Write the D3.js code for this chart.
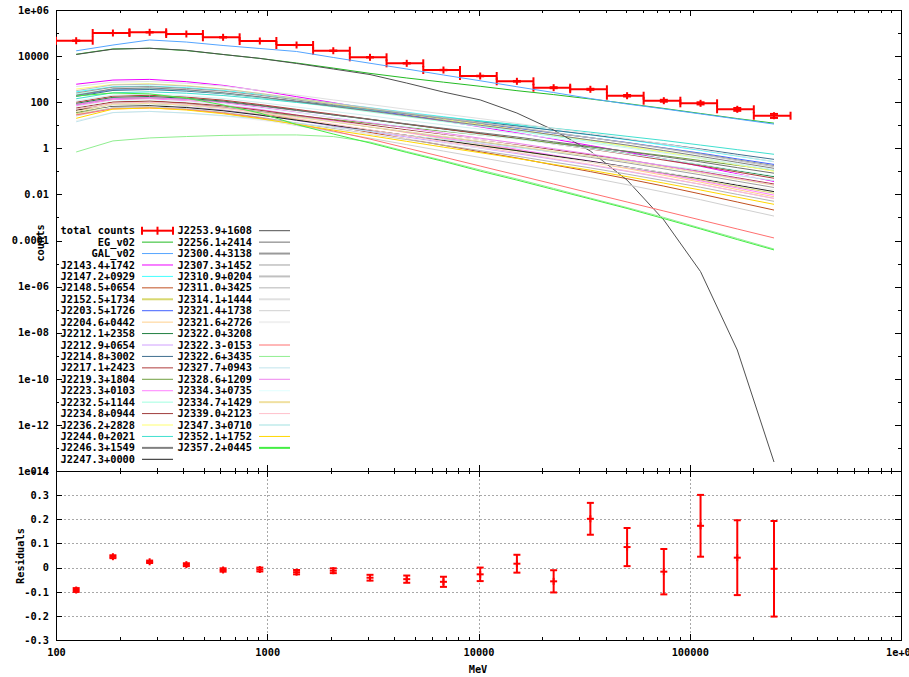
<!DOCTYPE html>
<html><head><meta charset="utf-8">
<script src="https://cdn.jsdelivr.net/npm/d3@7"></script>
<style>
html,body{margin:0;padding:0;background:#fff;}
svg{display:block;}
text{font-family:"DejaVu Sans Mono",monospace;font-weight:bold;font-size:10.3px;fill:#000;}
</style></head><body>
<svg id="chart" width="909" height="677"></svg>
<script>
// ---------------- DATA ----------------
// energy bin edges (MeV)
const binEdgesMeV = [100,149.2,222.7,332.3,495.9,740.1,1104.5,1648.3,2459.7,3670.7,5477.2,8173.6,12197,18202,27162,40534,60490,90270,134710,201030,300000];
// observed total counts per bin and their errors
const totalCounts = [46500,100400,108000,91000,65400,45200,30300,17100,8870,4870,2490,1370,807,426,363,191,116,89.5,49.2,25.9];
const totalCountsErr = [216,317,329,302,256,213,174,131,94,70,50,37,28,21,19,14,11,9.5,7,5.1];
// residuals per bin
const residuals = [-0.093,0.045,0.024,0.012,-0.010,-0.008,-0.019,-0.013,-0.042,-0.048,-0.059,-0.028,0.016,-0.057,0.202,0.085,-0.017,0.173,0.041,-0.005];
const residualErr = [0.008,0.006,0.005,0.006,0.007,0.008,0.009,0.010,0.012,0.015,0.021,0.028,0.037,0.046,0.066,0.079,0.094,0.128,0.155,0.198];

// model counts per bin, as log10(counts)
const log10_EG_v02 = [4.08,4.31,4.34,4.24,4.07,3.90,3.70,3.48,3.25,3.05,2.87,2.69,2.50,2.33,2.14,1.94,1.73,1.51,1.29,1.09];
const log10_GAL_v02 = [4.23,4.48,4.70,4.61,4.46,4.33,4.20,3.94,3.69,3.44,3.18,2.93,2.67,2.42,2.16,1.92,1.71,1.49,1.27,1.05];
const log10_J2143_4p1742 = [2.78,2.96,2.99,2.89,2.73,2.50,2.24,1.98,1.71,1.45,1.19,0.93,0.67,0.40,0.12,-0.16,-0.47,-0.78,-1.11,-1.44];
const log10_J2147_2p0929 = [2.45,2.67,2.70,2.63,2.51,2.34,2.14,1.95,1.76,1.56,1.37,1.18,0.99,0.78,0.58,0.37,0.14,-0.09,-0.34,-0.58];
const log10_J2148_5p0654 = [1.65,2.00,2.05,1.95,1.77,1.53,1.25,0.97,0.69,0.41,0.13,-0.15,-0.42,-0.72,-1.01,-1.32,-1.64,-1.98,-2.33,-2.68];
const log10_J2152_5p1734 = [1.50,1.85,1.90,1.82,1.67,1.47,1.25,1.02,0.79,0.56,0.34,0.11,-0.11,-0.35,-0.59,-0.84,-1.10,-1.38,-1.67,-1.95];
const log10_J2203_5p1726 = [2.30,2.55,2.58,2.51,2.39,2.22,2.02,1.83,1.64,1.44,1.25,1.06,0.87,0.66,0.46,0.25,0.02,-0.21,-0.46,-0.70];
const log10_J2204_6p0442 = [1.80,2.11,2.15,2.06,1.90,1.68,1.43,1.18,0.93,0.68,0.42,0.18,-0.07,-0.34,-0.60,-0.88,-1.17,-1.47,-1.79,-2.10];
const log10_J2212_1p2358 = [1.95,2.21,2.25,2.17,2.05,1.86,1.66,1.45,1.25,1.04,0.84,0.64,0.43,0.21,0.00,-0.23,-0.46,-0.71,-0.97,-1.23];
const log10_J2212_9p0654 = [1.55,1.86,1.90,1.81,1.66,1.45,1.21,0.97,0.73,0.49,0.25,0.01,-0.23,-0.48,-0.73,-1.00,-1.28,-1.56,-1.87,-2.17];
const log10_J2214_8p3002 = [2.25,2.51,2.55,2.48,2.37,2.21,2.04,1.86,1.68,1.50,1.32,1.14,0.97,0.78,0.59,0.39,0.19,-0.03,-0.26,-0.48];
const log10_J2217_1p2423 = [2.00,2.26,2.30,2.22,2.09,1.90,1.69,1.48,1.26,1.05,0.84,0.63,0.42,0.19,-0.03,-0.26,-0.51,-0.76,-1.03,-1.30];
const log10_J2219_3p1804 = [1.55,1.86,1.90,1.84,1.73,1.58,1.42,1.25,1.08,0.91,0.74,0.58,0.41,0.23,0.06,-0.13,-0.32,-0.53,-0.74,-0.95];
const log10_J2223_3p0103 = [1.85,2.11,2.15,2.06,1.90,1.69,1.44,1.19,0.95,0.70,0.45,0.21,-0.04,-0.30,-0.55,-0.83,-1.11,-1.41,-1.72,-2.03];
const log10_J2232_5p1144 = [2.35,2.57,2.60,2.52,2.39,2.21,2.00,1.79,1.58,1.37,1.16,0.95,0.74,0.52,0.30,0.07,-0.17,-0.42,-0.69,-0.95];
const log10_J2234_8p0944 = [1.75,2.01,2.05,1.97,1.84,1.65,1.44,1.23,1.01,0.80,0.59,0.38,0.17,-0.06,-0.28,-0.51,-0.76,-1.01,-1.28,-1.55];
const log10_J2236_2p2828 = [2.57,2.77,2.80,2.72,2.58,2.38,2.15,1.93,1.71,1.48,1.26,1.04,0.81,0.58,0.34,0.09,-0.16,-0.43,-0.72,-1.00];
const log10_J2244_0p2021 = [2.15,2.41,2.45,2.39,2.29,2.15,1.99,1.83,1.67,1.51,1.35,1.19,1.03,0.87,0.70,0.52,0.34,0.14,-0.06,-0.26];
const log10_J2246_3p1549 = [2.30,2.58,2.62,2.54,2.41,2.23,2.03,1.82,1.62,1.41,1.20,1.00,0.80,0.58,0.36,0.14,-0.10,-0.35,-0.61,-0.87];
const log10_J2247_3p0000 = [1.65,1.83,1.85,1.77,1.63,1.44,1.22,1.00,0.78,0.56,0.34,0.12,-0.10,-0.33,-0.56,-0.81,-1.06,-1.32,-1.60,-1.88];
const log10_J2253_9p1608 = [4.07,4.30,4.34,4.25,4.07,3.90,3.68,3.44,3.20,2.83,2.44,2.10,1.53,0.79,-0.12,-1.38,-3.11,-5.35,-8.75,-13.61];
const log10_J2256_1p2414 = [1.90,2.16,2.20,2.13,2.01,1.84,1.64,1.45,1.26,1.06,0.87,0.68,0.49,0.28,0.08,-0.14,-0.36,-0.59,-0.84,-1.08];
const log10_J2300_4p3138 = [2.40,2.65,2.68,2.60,2.48,2.30,2.10,1.89,1.69,1.49,1.29,1.09,0.89,0.67,0.46,0.24,0.01,-0.24,-0.50,-0.75];
const log10_J2307_3p1452 = [1.70,1.96,2.00,1.92,1.78,1.59,1.37,1.15,0.93,0.72,0.50,0.28,0.07,-0.17,-0.39,-0.63,-0.89,-1.15,-1.43,-1.70];
const log10_J2310_9p0204 = [2.50,2.75,2.78,2.70,2.57,2.38,2.17,1.96,1.75,1.54,1.33,1.12,0.91,0.69,0.46,0.23,-0.01,-0.27,-0.54,-0.80];
const log10_J2311_0p3425 = [1.45,1.76,1.80,1.71,1.56,1.35,1.10,0.86,0.62,0.38,0.14,-0.10,-0.34,-0.60,-0.85,-1.12,-1.40,-1.69,-2.00,-2.30];
const log10_J2314_1p1444 = [2.68,2.87,2.90,2.82,2.70,2.51,2.31,2.10,1.90,1.69,1.49,1.29,1.08,0.86,0.65,0.42,0.19,-0.06,-0.32,-0.58];
const log10_J2321_4p1738 = [1.40,1.75,1.80,1.70,1.52,1.27,0.99,0.72,0.44,0.16,-0.12,-0.40,-0.68,-0.97,-1.27,-1.58,-1.90,-2.23,-2.59,-2.94];
const log10_J2321_6p2726 = [1.20,1.55,1.60,1.53,1.40,1.22,1.02,0.82,0.62,0.42,0.22,0.02,-0.18,-0.39,-0.60,-0.82,-1.05,-1.29,-1.55,-1.80];
const log10_J2322_0p3208 = [1.60,1.86,1.90,1.83,1.71,1.54,1.34,1.15,0.96,0.76,0.57,0.38,0.19,-0.02,-0.22,-0.44,-0.66,-0.89,-1.14,-1.38];
const log10_J2322_3m0153 = [1.45,1.71,1.75,1.68,1.53,1.32,1.05,0.75,0.40,0.01,-0.38,-0.77,-1.16,-1.55,-1.94,-2.33,-2.72,-3.11,-3.50,-3.89];
const log10_J2322_6p3435 = [-0.16,0.32,0.45,0.51,0.56,0.58,0.58,0.51,0.27,-0.14,-0.53,-0.94,-1.33,-1.74,-2.16,-2.57,-3.00,-3.46,-3.91,-4.37];
const log10_J2327_7p0943 = [1.15,1.55,1.60,1.53,1.42,1.27,1.09,0.91,0.74,0.56,0.38,0.21,0.03,-0.16,-0.34,-0.54,-0.74,-0.95,-1.18,-1.40];
const log10_J2328_6p1209 = [1.90,2.16,2.20,2.12,1.98,1.78,1.56,1.33,1.11,0.89,0.66,0.44,0.22,-0.02,-0.25,-0.50,-0.76,-1.03,-1.31,-1.59];
const log10_J2334_3p0735 = [1.80,2.06,2.10,2.03,1.91,1.74,1.54,1.35,1.16,0.96,0.77,0.58,0.39,0.18,-0.02,-0.24,-0.46,-0.69,-0.94,-1.18];
const log10_J2334_7p1429 = [1.60,1.91,1.95,1.87,1.74,1.56,1.35,1.14,0.93,0.72,0.51,0.30,0.09,-0.13,-0.35,-0.58,-0.82,-1.07,-1.34,-1.60];
const log10_J2339_0p2123 = [1.70,1.96,2.00,1.91,1.75,1.54,1.29,1.04,0.80,0.55,0.30,0.06,-0.19,-0.45,-0.70,-0.98,-1.26,-1.56,-1.87,-2.18];
const log10_J2347_3p0710 = [2.05,2.31,2.35,2.28,2.16,1.99,1.79,1.60,1.41,1.21,1.02,0.83,0.64,0.43,0.23,0.02,-0.21,-0.44,-0.69,-0.93];
const log10_J2352_1p1752 = [1.30,1.70,1.75,1.66,1.50,1.29,1.04,0.79,0.55,0.30,0.05,-0.19,-0.44,-0.70,-0.95,-1.23,-1.51,-1.81,-2.12,-2.43];
const log10_J2357_2p0445 = [2.27,2.40,2.36,2.18,1.88,1.53,1.03,0.62,0.23,-0.18,-0.57,-0.99,-1.38,-1.79,-2.20,-2.61,-3.05,-3.50,-3.96,-4.41];

const modelNames = ["EG_v02","GAL_v02","J2143.4+1742","J2147.2+0929","J2148.5+0654","J2152.5+1734","J2203.5+1726","J2204.6+0442","J2212.1+2358","J2212.9+0654","J2214.8+3002","J2217.1+2423","J2219.3+1804","J2223.3+0103","J2232.5+1144","J2234.8+0944","J2236.2+2828","J2244.0+2021","J2246.3+1549","J2247.3+0000","J2253.9+1608","J2256.1+2414","J2300.4+3138","J2307.3+1452","J2310.9+0204","J2311.0+3425","J2314.1+1444","J2321.4+1738","J2321.6+2726","J2322.0+3208","J2322.3-0153","J2322.6+3435","J2327.7+0943","J2328.6+1209","J2334.3+0735","J2334.7+1429","J2339.0+2123","J2347.3+0710","J2352.1+1752","J2357.2+0445"];
const modelValues = [log10_EG_v02,log10_GAL_v02,log10_J2143_4p1742,log10_J2147_2p0929,log10_J2148_5p0654,log10_J2152_5p1734,log10_J2203_5p1726,log10_J2204_6p0442,log10_J2212_1p2358,log10_J2212_9p0654,log10_J2214_8p3002,log10_J2217_1p2423,log10_J2219_3p1804,log10_J2223_3p0103,log10_J2232_5p1144,log10_J2234_8p0944,log10_J2236_2p2828,log10_J2244_0p2021,log10_J2246_3p1549,log10_J2247_3p0000,log10_J2253_9p1608,log10_J2256_1p2414,log10_J2300_4p3138,log10_J2307_3p1452,log10_J2310_9p0204,log10_J2311_0p3425,log10_J2314_1p1444,log10_J2321_4p1738,log10_J2321_6p2726,log10_J2322_0p3208,log10_J2322_3m0153,log10_J2322_6p3435,log10_J2327_7p0943,log10_J2328_6p1209,log10_J2334_3p0735,log10_J2334_7p1429,log10_J2339_0p2123,log10_J2347_3p0710,log10_J2352_1p1752,log10_J2357_2p0445];
const modelColors = ["#22bb22","#55a5ff","#ee00ff","#44ffff","#c05020","#d8d870","#3f60ff","#ffd08c","#1f7f40","#d0a0ff","#3f6f8f","#b03c3c","#6f9f3f","#ff80ff","#a0ffe0","#a03c3c","#ffff70","#40e0d0","#808080","#202020","#505050","#707070","#9a9a9a","#a0a0a0","#c0c0c0","#b4b4b4","#e0e0e0","#d0d0d0","#f0f0f0","#ffffff","#ff7070","#90ee90","#c0e4ec","#ee82ee","#e0ffff","#f0e0a0","#ffc0cb","#d0f0f0","#ffd700","#44ee44"];
const legendWidths = [1,1,1,1,1,2,1,1,1,1,1,1,1,1,1,1,1,1,2,1,1,1,2,1,2,1,2,1,2,1,1,1,1,1,1,2,1,2,1,2];

// tick values and labels
const countTickValues = [1e-14,1e-12,1e-10,1e-8,1e-6,1e-4,1e-2,1,1e2,1e4,1e6];
const countTickLabels = ["1e-14","1e-12","1e-10","1e-08","1e-06","0.0001","0.01","1","100","10000","1e+06"];
const countMinorTicks = [1e-13,1e-11,1e-9,1e-7,1e-5,1e-3,1e-1,1e1,1e3,1e5];
const energyTickValues = [100,1000,10000,100000,1000000];
const energyTickLabels = ["100","1000","10000","100000","1e+06"];
const residTickValues = [-0.3,-0.2,-0.1,0,0.1,0.2,0.3,0.4];
const residTickLabels = ["-0.3","-0.2","-0.1","0","0.1","0.2","0.3","0.4"];
const residGridValues = [-0.2,-0.1,0,0.1,0.2,0.3];

// ---------------- DRAWING ----------------
const svg = d3.select('#chart');
const L = 56, R = 901, T = 10, MID = 471, B = 640;
const x = d3.scaleLog().domain([100,1e6]).range([L,R]);
const yTop = d3.scaleLog().domain([1e-14,1e6]).range([MID,T]);
const yRes = d3.scaleLinear().domain([-0.3,0.4]).range([B,MID]);
const centers = d3.range(binEdgesMeV.length-1).map(i => (binEdgesMeV[i]+binEdgesMeV[i+1])/2);

const energyMinor = [];
[100,1000,10000,100000].forEach(d => { for (let m=2;m<=9;m++) energyMinor.push(d*m); });

svg.append('defs').append('clipPath').attr('id','clipTop')
  .append('rect').attr('x',L).attr('y',T).attr('width',R-L).attr('height',MID-T);

// residual grid (dotted)
const grid = svg.append('g').attr('stroke','#a8a8a8').attr('stroke-width',1)
  .attr('stroke-dasharray','2,2').attr('shape-rendering','crispEdges');
residGridValues.forEach(v => grid.append('line')
  .attr('x1',L).attr('x2',R).attr('y1',Math.round(yRes(v))+0.5).attr('y2',Math.round(yRes(v))+0.5));
[1000,10000,100000].forEach(v => grid.append('line')
  .attr('y1',MID).attr('y2',B).attr('x1',Math.round(x(v))+0.5).attr('x2',Math.round(x(v))+0.5));

function styleAxis(g){
  g.select('.domain').remove();
  g.selectAll('.tick line').attr('stroke','#000').attr('shape-rendering','crispEdges');
  g.attr('font-family',null).attr('font-size',null);
}
function addAxis(axis, tx, ty){
  const g = svg.append('g').attr('transform',`translate(${tx},${ty})`).call(axis);
  styleAxis(g);
  return g;
}
// top panel y axes
addAxis(d3.axisLeft(yTop).tickValues(countTickValues).tickSize(-6).tickPadding(7)
  .tickFormat((d,i)=>countTickLabels[i]), L, 0);
addAxis(d3.axisLeft(yTop).tickValues(countMinorTicks).tickSize(-3).tickFormat(''), L, 0);
addAxis(d3.axisRight(yTop).tickValues(countTickValues).tickSize(-6).tickFormat(''), R, 0);
addAxis(d3.axisRight(yTop).tickValues(countMinorTicks).tickSize(-3).tickFormat(''), R, 0);
// top panel x axes (no labels)
addAxis(d3.axisTop(x).tickValues(energyTickValues).tickSize(-6).tickFormat(''), 0, T);
addAxis(d3.axisTop(x).tickValues(energyMinor).tickSize(-3).tickFormat(''), 0, T);
addAxis(d3.axisBottom(x).tickValues(energyTickValues).tickSize(-6).tickFormat(''), 0, MID);
addAxis(d3.axisBottom(x).tickValues(energyMinor).tickSize(-3).tickFormat(''), 0, MID);
// residual axes
addAxis(d3.axisTop(x).tickValues(energyTickValues).tickSize(-6).tickFormat(''), 0, MID);
addAxis(d3.axisTop(x).tickValues(energyMinor).tickSize(-3).tickFormat(''), 0, MID);
addAxis(d3.axisBottom(x).tickValues(energyTickValues).tickSize(-6).tickPadding(9)
  .tickFormat((d,i)=>energyTickLabels[i]), 0, B);
addAxis(d3.axisBottom(x).tickValues(energyMinor).tickSize(-3).tickFormat(''), 0, B);
addAxis(d3.axisLeft(yRes).tickValues(residTickValues).tickSize(-6).tickPadding(7)
  .tickFormat((d,i)=>residTickLabels[i]), L, 0);
addAxis(d3.axisRight(yRes).tickValues(residTickValues).tickSize(-6).tickFormat(''), R, 0);

// borders
svg.append('rect').attr('x',L+0.5).attr('y',T+0.5).attr('width',R-L).attr('height',MID-T)
  .attr('fill','none').attr('stroke','#000').attr('shape-rendering','crispEdges');
svg.append('rect').attr('x',L+0.5).attr('y',MID+0.5).attr('width',R-L).attr('height',B-MID)
  .attr('fill','none').attr('stroke','#000').attr('shape-rendering','crispEdges');

// axis titles
svg.append('text').attr('transform','translate(40,243) rotate(-90)').attr('text-anchor','middle').attr('dy','0.35em').text('counts');
svg.append('text').attr('transform','translate(20,556) rotate(-90)').attr('text-anchor','middle').attr('dy','0.35em').text('Residuals');
svg.append('text').attr('x',478).attr('y',669).attr('text-anchor','middle').attr('dy','0.35em').text('MeV');

// total counts with x/y error bars
const RED = '#ff0000';
const gTot = svg.append('g').attr('stroke',RED).attr('stroke-width',2).attr('clip-path','url(#clipTop)');
const cap = 4, pt = 3.5;
totalCounts.forEach((v,i) => {
  const x0 = x(binEdgesMeV[i]), x1 = x(binEdgesMeV[i+1]), xc = x(centers[i]);
  const yc = yTop(v), yHi = yTop(v+totalCountsErr[i]), yLo = yTop(v-totalCountsErr[i]);
  gTot.append('line').attr('x1',x0).attr('x2',x1).attr('y1',yc).attr('y2',yc);
  gTot.append('line').attr('x1',x0).attr('x2',x0).attr('y1',yc-cap).attr('y2',yc+cap);
  gTot.append('line').attr('x1',x1).attr('x2',x1).attr('y1',yc-cap).attr('y2',yc+cap);
  gTot.append('line').attr('x1',xc).attr('x2',xc).attr('y1',yHi).attr('y2',yLo);
  gTot.append('line').attr('x1',xc-cap).attr('x2',xc+cap).attr('y1',yHi).attr('y2',yHi);
  gTot.append('line').attr('x1',xc-cap).attr('x2',xc+cap).attr('y1',yLo).attr('y2',yLo);
  gTot.append('line').attr('x1',xc).attr('x2',xc).attr('y1',yc-pt).attr('y2',yc+pt);
});

// model curves (1px lines)
const line = d3.line().x((d,i)=>x(centers[i])).y(d=>yTop(Math.pow(10,d)));
const gModels = svg.append('g').attr('clip-path','url(#clipTop)').attr('fill','none');
modelValues.forEach((vals,j) => {
  gModels.append('path').attr('d',line(vals)).attr('stroke',modelColors[j]).attr('stroke-width',1);
});

// residuals
const gRes = svg.append('g').attr('stroke',RED).attr('stroke-width',2);
residuals.forEach((r,i) => {
  const xc = x(centers[i]), yc = yRes(r), yHi = yRes(r+residualErr[i]), yLo = yRes(r-residualErr[i]);
  gRes.append('line').attr('x1',xc).attr('x2',xc).attr('y1',yHi).attr('y2',yLo);
  gRes.append('line').attr('x1',xc-3.5).attr('x2',xc+3.5).attr('y1',yHi).attr('y2',yHi);
  gRes.append('line').attr('x1',xc-3.5).attr('x2',xc+3.5).attr('y1',yLo).attr('y2',yLo);
  gRes.append('line').attr('x1',xc-3.5).attr('x2',xc+3.5).attr('y1',yc).attr('y2',yc);
  gRes.append('line').attr('x1',xc).attr('x2',xc).attr('y1',yc-3.5).attr('y2',yc+3.5);
});

// legend
const rowY = i => 230.7 + 11.43*i;
const col1 = [{name:'total counts', total:true}].concat(modelNames.slice(0,20).map((n,j)=>({name:n, idx:j})));
const col2 = modelNames.slice(20).map((n,j)=>({name:n, idx:j+20}));
const gLeg = svg.append('g');
function legendColumn(items, textRight, lx0, lx1){
  items.forEach((it,i) => {
    const y = rowY(i);
    gLeg.append('text').attr('x',textRight).attr('y',y).attr('dy','0.35em').attr('text-anchor','end').text(it.name);
    if (it.total) {
      const g = gLeg.append('g').attr('stroke',RED).attr('stroke-width',2);
      g.append('line').attr('x1',lx0).attr('x2',lx1).attr('y1',y).attr('y2',y);
      [lx0,(lx0+lx1)/2,lx1].forEach(xx => g.append('line').attr('x1',xx).attr('x2',xx).attr('y1',y-cap).attr('y2',y+cap));
    } else {
      gLeg.append('line').attr('x1',lx0).attr('x2',lx1).attr('y1',y).attr('y2',y)
        .attr('stroke',modelColors[it.idx]).attr('stroke-width',legendWidths[it.idx]);
    }
  });
}
legendColumn(col1, 135, 142, 173);
legendColumn(col2, 252, 259, 290);
</script>
</body></html>
